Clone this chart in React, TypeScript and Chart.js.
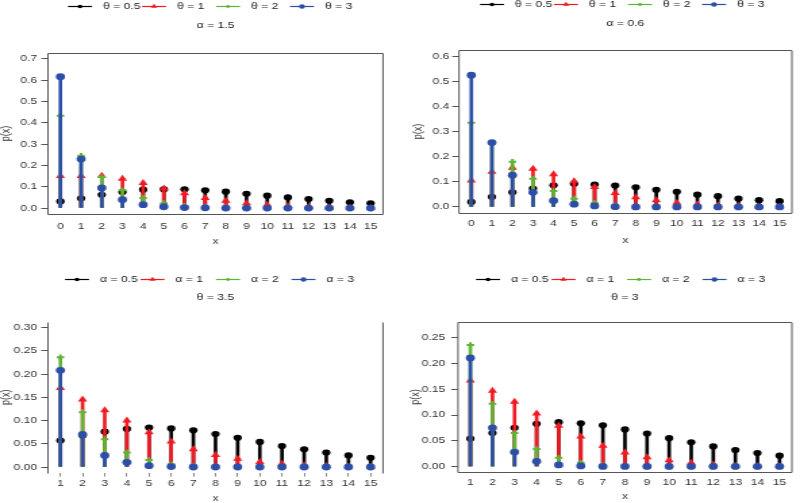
import React, { useEffect, useRef } from 'react';
import { Chart, registerables } from 'chart.js';

Chart.register(...registerables);

// Each panel is drawn on a narrow canvas and widened horizontally by S.
const CANVAS_W = 296;
const S = 400 / CANVAS_W;
const FONT = '"Liberation Sans", Arial, Helvetica, sans-serif';

// x values
const xFrom0 = [0, 1, 2, 3, 4, 5, 6, 7, 8, 9, 10, 11, 12, 13, 14, 15];
const xFrom1 = [1, 2, 3, 4, 5, 6, 7, 8, 9, 10, 11, 12, 13, 14, 15];

// legend labels
const thetaNames = ['θ = 0.5', 'θ = 1', 'θ = 2', 'θ = 3'];
const alphaNames = ['α = 0.5', 'α = 1', 'α = 2', 'α = 3'];

// α = 1.5
const a15Theta05 = [0.031, 0.045, 0.062, 0.075, 0.086, 0.088, 0.088, 0.083, 0.077, 0.067, 0.058, 0.05, 0.042, 0.034, 0.027, 0.022];
const a15Theta1 = [0.15, 0.151, 0.152, 0.138, 0.117, 0.092, 0.069, 0.047, 0.034, 0.022, 0.015, 0.01, 0.006, 0.004, 0.002, 0.001];
const a15Theta2 = [0.433, 0.245, 0.146, 0.083, 0.047, 0.023, 0.01, 0.004, 0.002, 0.001, 0, 0, 0, 0, 0, 0];
const a15Theta3 = [0.617, 0.23, 0.094, 0.039, 0.016, 0.006, 0.002, 0.001, 0, 0, 0, 0, 0, 0, 0, 0];

// α = 0.6
const a06Theta05 = [0.02, 0.04, 0.058, 0.073, 0.086, 0.092, 0.089, 0.085, 0.078, 0.068, 0.06, 0.049, 0.043, 0.033, 0.027, 0.023];
const a06Theta1 = [0.105, 0.14, 0.156, 0.152, 0.13, 0.102, 0.079, 0.056, 0.039, 0.027, 0.017, 0.011, 0.007, 0.004, 0.002, 0.001];
const a06Theta2 = [0.335, 0.252, 0.18, 0.112, 0.063, 0.033, 0.016, 0.006, 0.002, 0.001, 0, 0, 0, 0, 0, 0];
const a06Theta3 = [0.524, 0.256, 0.126, 0.058, 0.025, 0.011, 0.004, 0.001, 0, 0, 0, 0, 0, 0, 0, 0];

// θ = 3.5
const t35Alpha05 = [0.057, 0.068, 0.076, 0.082, 0.085, 0.083, 0.079, 0.071, 0.063, 0.054, 0.045, 0.038, 0.031, 0.025, 0.02];
const t35Alpha1 = [0.17, 0.145, 0.122, 0.1, 0.075, 0.055, 0.038, 0.026, 0.018, 0.011, 0.007, 0.004, 0.002, 0.001, 0.001];
const t35Alpha2 = [0.236, 0.118, 0.06, 0.031, 0.015, 0.006, 0.002, 0.001, 0, 0, 0, 0, 0, 0, 0];
const t35Alpha3 = [0.208, 0.07, 0.025, 0.01, 0.003, 0.001, 0, 0, 0, 0, 0, 0, 0, 0, 0];

// θ = 3
const t3Alpha05 = [0.054, 0.065, 0.075, 0.083, 0.086, 0.084, 0.08, 0.072, 0.064, 0.055, 0.047, 0.039, 0.032, 0.026, 0.021];
const t3Alpha1 = [0.167, 0.147, 0.126, 0.103, 0.079, 0.058, 0.04, 0.027, 0.018, 0.012, 0.007, 0.004, 0.002, 0.001, 0.001];
const t3Alpha2 = [0.236, 0.122, 0.065, 0.034, 0.017, 0.007, 0.002, 0.001, 0, 0, 0, 0, 0, 0, 0];
const t3Alpha3 = [0.211, 0.075, 0.028, 0.01, 0.003, 0.001, 0, 0, 0, 0, 0, 0, 0, 0, 0];

// y tick values
const yTicks07 = [0, 0.1, 0.2, 0.3, 0.4, 0.5, 0.6, 0.7];
const yTicks06 = [0, 0.1, 0.2, 0.3, 0.4, 0.5, 0.6];
const yTicks030 = [0, 0.05, 0.1, 0.15, 0.2, 0.25, 0.3];
const yTicks025 = [0, 0.05, 0.1, 0.15, 0.2, 0.25];

// series styling: black dots, red triangles, green crosses, blue dots
const seriesColors = ['#000000', '#F01A22', '#5EB435', '#2D4EA6'];
const seriesPoint = ['circle', 'triangle', 'cross', 'circle'];
const seriesRadius = [3.1, 4.0, 2.8, 3.4];
const legendRadius = [1.8, 2.7, 1.4, 2.2];

type Panel = {
  left: number; top: number; height: number;
  xs: number[]; series: number[][]; names: string[]; subtitle: string;
  yTicks: number[]; decimals: number;
  yMin: number; yMax: number; xMin: number; xMax: number;
  area: { l: number; t: number; r: number; b: number };
  axisBottom: number; padLeft: number;
  xTickPad: number; yTickPad: number; xTickMarks: boolean;
  legendX: number; legendY: number; legendPitch: number; subtitleY: number;
  frame: 'box' | 'sides';
};

const panels: Panel[] = [
  {
    left: 0, top: 0, height: 250,
    xs: xFrom0, series: [a15Theta05, a15Theta1, a15Theta2, a15Theta3], names: thetaNames, subtitle: 'α = 1.5',
    yTicks: yTicks07, decimals: 1, yMin: -0.028, yMax: 0.728, xMin: -0.6, xMax: 15.6,
    area: { l: 48, t: 53, r: 383, b: 214 }, axisBottom: 246.5, padLeft: 0,
    xTickPad: 7.6, yTickPad: 3, xTickMarks: false,
    legendX: 68, legendY: 6, legendPitch: 74, subtitleY: 26, frame: 'box',
  },
  {
    left: 400, top: 0, height: 250,
    xs: xFrom0, series: [a06Theta05, a06Theta1, a06Theta2, a06Theta3], names: thetaNames, subtitle: 'α = 0.6',
    yTicks: yTicks06, decimals: 1, yMin: -0.024, yMax: 0.624, xMin: -0.6, xMax: 15.6,
    area: { l: 59, t: 50, r: 396, b: 213 }, axisBottom: 245.5, padLeft: 12,
    xTickPad: 5.6, yTickPad: 2.2, xTickMarks: false,
    legendX: 80, legendY: 4, legendPitch: 74, subtitleY: 24, frame: 'box',
  },
  {
    left: 0, top: 250, height: 253,
    xs: xFrom1, series: [t35Alpha05, t35Alpha1, t35Alpha2, t35Alpha3], names: alphaNames, subtitle: 'θ = 3.5',
    yTicks: yTicks030, decimals: 2, yMin: -0.012, yMax: 0.312, xMin: 0.44, xMax: 15.56,
    area: { l: 48, t: 72, r: 383, b: 222.6 }, axisBottom: 253, padLeft: 0,
    xTickPad: 2, yTickPad: 3, xTickMarks: true,
    legendX: 65, legendY: 29, legendPitch: 75.5, subtitleY: 48, frame: 'sides',
  },
  {
    left: 400, top: 250, height: 253,
    xs: xFrom1, series: [t3Alpha05, t3Alpha1, t3Alpha2, t3Alpha3], names: alphaNames, subtitle: 'θ = 3',
    yTicks: yTicks025, decimals: 2, yMin: -0.0108, yMax: 0.2808, xMin: 0.44, xMax: 15.56,
    area: { l: 58, t: 72, r: 397, b: 222 }, axisBottom: 251.5, padLeft: 9,
    xTickPad: 5.6, yTickPad: 4.4, xTickMarks: false,
    legendX: 76, legendY: 29, legendPitch: 75.5, subtitleY: 48, frame: 'box',
  },
];

function drawMarker(ctx: CanvasRenderingContext2D, style: string, x: number, y: number, r: number, color: string) {
  ctx.fillStyle = color;
  ctx.strokeStyle = color;
  ctx.beginPath();
  if (style === 'triangle') {
    ctx.moveTo(x, y - r);
    ctx.lineTo(x + r * 0.866, y + r * 0.5);
    ctx.lineTo(x - r * 0.866, y + r * 0.5);
    ctx.closePath();
  } else {
    ctx.arc(x, y, r, 0, Math.PI * 2);
  }
  ctx.fill();
}

function makeDecor(p: Panel) {
  return {
    id: 'decor',
    afterDraw(chart: Chart) {
      const { ctx, chartArea: a } = chart;
      ctx.save();
      // frame around the plotting region
      ctx.strokeStyle = '#555';
      ctx.lineWidth = 1;
      const top = Math.round(a.top) + 0.5;
      const bottom = Math.round(a.bottom) + 0.5;
      ctx.beginPath();
      ctx.moveTo(a.left, top);
      ctx.lineTo(a.left, bottom);
      ctx.moveTo(a.right, top);
      ctx.lineTo(a.right, bottom);
      if (p.frame === 'box') {
        ctx.moveTo(a.left, top);
        ctx.lineTo(a.right, top);
        ctx.moveTo(a.left, bottom);
        ctx.lineTo(a.right, bottom);
      }
      ctx.stroke();

      // legend row
      ctx.font = `9px ${FONT}`;
      ctx.textBaseline = 'middle';
      ctx.textAlign = 'left';
      const seg = 24 / S;
      const textGap = 35 / S;
      p.names.forEach((name, i) => {
        const x0 = (p.legendX + i * p.legendPitch) / S;
        const y = p.legendY;
        ctx.strokeStyle = seriesColors[i];
        ctx.lineWidth = 1.2;
        ctx.beginPath();
        ctx.moveTo(x0, y + 0.5);
        ctx.lineTo(x0 + seg, y + 0.5);
        ctx.stroke();
        drawMarker(ctx, i === 1 ? 'triangle' : 'circle', x0 + seg / 2, y + 0.5, legendRadius[i], seriesColors[i]);
        ctx.fillStyle = '#1a1a1a';
        ctx.fillText(name, x0 + textGap, y + 0.5);
      });

      // subtitle
      ctx.textAlign = 'center';
      ctx.fillStyle = '#1a1a1a';
      ctx.fillText(p.subtitle, (a.left + a.right) / 2, p.subtitleY);
      ctx.restore();
    },
  };
}

function PanelChart({ p }: { p: Panel }) {
  const ref = useRef<HTMLCanvasElement>(null);

  useEffect(() => {
    if (!ref.current) return;
    const datasets: any[] = [];
    p.series.forEach((vals, i) => {
      const pts = p.xs.map((x, j) => ({ x, y: vals[j] }));
      // vertical stem
      datasets.push({
        type: 'bar',
        label: p.names[i],
        data: pts,
        backgroundColor: seriesColors[i],
        borderWidth: 0,
        barThickness: 2.0,
        grouped: false,
        order: 10 - 2 * i,
      });
      // marker at the top of the stem
      datasets.push({
        type: 'scatter',
        label: p.names[i],
        data: pts,
        showLine: false,
        pointStyle: seriesPoint[i],
        pointRadius: seriesRadius[i],
        pointBackgroundColor: seriesColors[i],
        pointBorderColor: seriesColors[i],
        pointBorderWidth: i === 2 ? 2 : 0,
        order: 9 - 2 * i,
      });
    });

    const chart = new Chart(ref.current, {
      type: 'scatter',
      data: { datasets },
      options: {
        responsive: false,
        animation: false,
        events: [],
        layout: {
          padding: {
            left: p.padLeft / S,
            top: p.area.t,
            right: CANVAS_W - p.area.r / S,
            bottom: p.height - p.axisBottom,
          },
        },
        scales: {
          x: {
            type: 'linear',
            min: p.xMin,
            max: p.xMax,
            offset: false,
            afterBuildTicks: (s: any) => { s.ticks = p.xs.map((v) => ({ value: v })); },
            afterFit: (s: any) => { s.height = p.axisBottom - p.area.b; },
            grid: { display: true, drawOnChartArea: false, drawTicks: p.xTickMarks, tickLength: 4, color: '#888', offset: false },
            border: { display: false },
            ticks: { padding: p.xTickPad, color: '#333', autoSkip: false, maxRotation: 0, font: { size: 9, family: FONT }, callback: (v: any) => String(v) },
            title: { display: true, text: 'x', color: '#333', padding: 0, font: { size: 9, family: FONT, lineHeight: 1 } },
          },
          y: {
            type: 'linear',
            min: p.yMin,
            max: p.yMax,
            afterBuildTicks: (s: any) => { s.ticks = p.yTicks.map((v) => ({ value: v })); },
            afterFit: (s: any) => { s.width = (p.area.l - p.padLeft) / S; },
            grid: { display: true, drawOnChartArea: false, drawTicks: true, tickLength: 5, color: '#555' },
            border: { display: false },
            ticks: { padding: p.yTickPad, color: '#333', autoSkip: false, font: { size: 9, family: FONT }, callback: (v: any) => Number(v).toFixed(p.decimals) },
            title: { display: true, text: 'p(x)', color: '#333', padding: 0, font: { size: 9, family: FONT, lineHeight: 1 } },
          },
        },
        plugins: { legend: { display: false }, tooltip: { enabled: false } },
      } as any,
      plugins: [makeDecor(p) as any],
    });
    return () => chart.destroy();
  }, [p]);

  return (
    <div
      style={{
        position: 'absolute',
        left: p.left,
        top: p.top,
        width: CANVAS_W,
        height: p.height,
        transform: `scaleX(${S})`,
        transformOrigin: '0 0',
      }}
    >
      <canvas ref={ref} width={CANVAS_W} height={p.height} style={{ display: 'block' }} />
    </div>
  );
}

export default function App() {
  return (
    <div style={{ position: 'fixed', left: 0, top: 0, width: 800, height: 503, background: '#fff', overflow: 'hidden' }}>
      {panels.map((p, i) => (
        <PanelChart key={i} p={p} />
      ))}
    </div>
  );
}
